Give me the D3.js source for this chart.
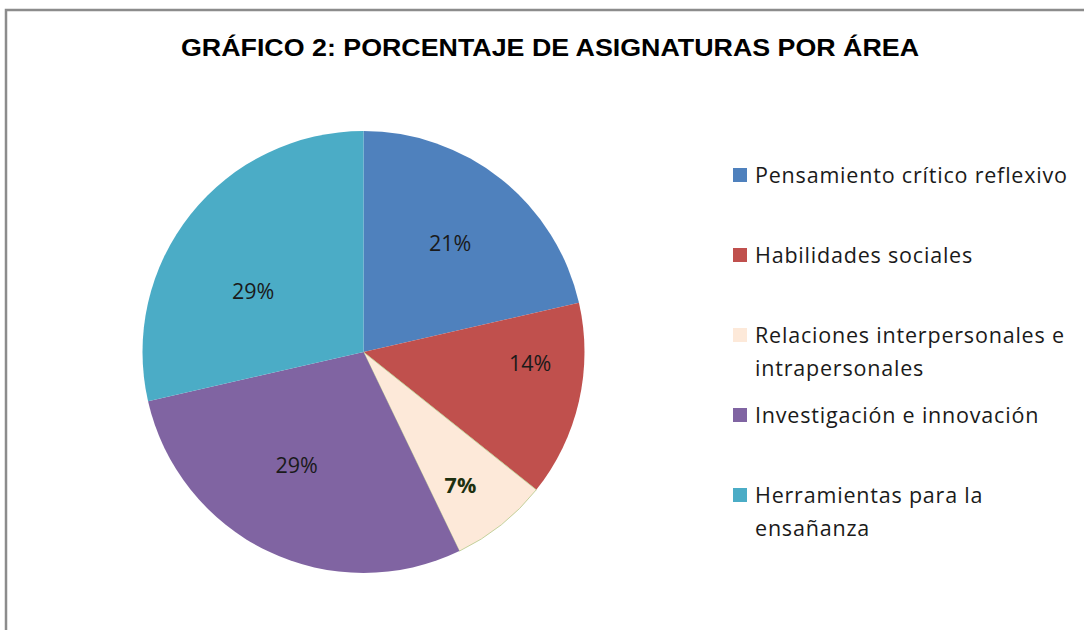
<!DOCTYPE html>
<html lang="es">
<head>
<meta charset="utf-8">
<title>Gráfico 2</title>
<script src="https://d3js.org/d3.v7.min.js"></script>
<style>
  body { margin: 0; background: #fff; }
  svg { display: block; }
  .title { font-family: "Liberation Sans", Arial, sans-serif; font-weight: bold; font-size: 24px; fill: #000; }
  .legend-text { font-family: "Open Sans", Lato, sans-serif; font-size: 21.5px; fill: #1a1a1a; }
  .pct { font-family: "Open Sans", Lato, sans-serif; font-size: 21.5px; fill: #1a1a1a; }
</style>
</head>
<body>
<div id="chart"></div>
<script>
// Data
const categories = [
  "Pensamiento crítico reflexivo",
  "Habilidades sociales",
  "Relaciones interpersonales e intrapersonales",
  "Investigación e innovación",
  "Herramientas para la ensañanza"
];
const values = [3, 2, 1, 4, 4];
const legendLines = [
  ["Pensamiento crítico reflexivo"],
  ["Habilidades sociales"],
  ["Relaciones interpersonales e", "intrapersonales"],
  ["Investigación e innovación"],
  ["Herramientas para la", "ensañanza"]
];
const colors = ["#4f81bd", "#c0504d", "#fde9d9", "#8064a2", "#4bacc6"];

// Layout
const width = 1084, height = 630;
const cx = 363.5, cy = 352, radius = 221;
// label placement per slice: angle shift (deg) from mid angle, distance from centre
const labelShift = [0, -9, 2.6, 4.7, -9.7];
const labelRadius = [139, 167, 165, 132, 126];

const svg = d3.select("#chart").append("svg")
  .attr("width", width)
  .attr("height", height);

// Frame
svg.append("path")
  .attr("d", `M6,${height} L6,10 L${width},10`)
  .attr("fill", "none")
  .attr("stroke", "#8c8c8c")
  .attr("stroke-width", 2.5);

svg.append("text")
  .attr("class", "title")
  .attr("x", 550)
  .attr("y", 56)
  .attr("text-anchor", "middle")
  .attr("textLength", 738)
  .attr("lengthAdjust", "spacingAndGlyphs")
  .text("GRÁFICO 2: PORCENTAJE DE ASIGNATURAS POR ÁREA");

// Pie
const pie = d3.pie().sort(null).value(d => d);
const arcs = pie(values);
const arc = d3.arc().innerRadius(0).outerRadius(radius);
const total = d3.sum(values);
const fmt = d3.format(".0%");

const g = svg.append("g").attr("transform", `translate(${cx},${cy})`);

g.selectAll("path.slice")
  .data(arcs)
  .join("path")
  .attr("class", "slice")
  .attr("d", arc)
  .attr("fill", (d, i) => colors[i])
  .attr("stroke", (d, i) => i === 2 ? "#b5c98a" : "none")
  .attr("stroke-width", 0.8);

g.selectAll("text.pct")
  .data(arcs)
  .join("text")
  .attr("class", "pct")
  .attr("transform", (d, i) => {
    const a = (d.startAngle + d.endAngle) / 2 + labelShift[i] * Math.PI / 180;
    const x = labelRadius[i] * Math.sin(a);
    const y = -labelRadius[i] * Math.cos(a);
    return `translate(${x},${y})`;
  })
  .attr("text-anchor", "middle")
  .attr("dy", "0.35em")
  .style("font-weight", (d, i) => i === 2 ? "bold" : null)
  .style("fill", (d, i) => i === 2 ? "#1e3010" : null)
  .text(d => fmt(d.data / total));

// Legend
const legendY = [175, 255, 335, 415, 495];
const legend = svg.append("g");
const item = legend.selectAll("g")
  .data(categories)
  .join("g")
  .attr("transform", (d, i) => `translate(733,${legendY[i]})`);

item.append("rect")
  .attr("x", 0)
  .attr("y", -7)
  .attr("width", 14)
  .attr("height", 14)
  .attr("fill", (d, i) => colors[i]);

const legendText = item.append("text")
  .attr("class", "legend-text")
  .attr("x", 22)
  .attr("y", 0);

legendText.selectAll("tspan")
  .data((d, i) => legendLines[i])
  .join("tspan")
  .attr("x", 22)
  .attr("dy", (d, j) => j === 0 ? "0.35em" : "1.55em")
  .text(d => d);

// widen spacing a little so the first entry spans the same width as in the source
const firstLen = legendText.node().getComputedTextLength();
const spacing = Math.max(0, (312 - firstLen) / (legendLines[0][0].length - 1));
legendText.style("letter-spacing", `${spacing}px`);
</script>
</body>
</html>
